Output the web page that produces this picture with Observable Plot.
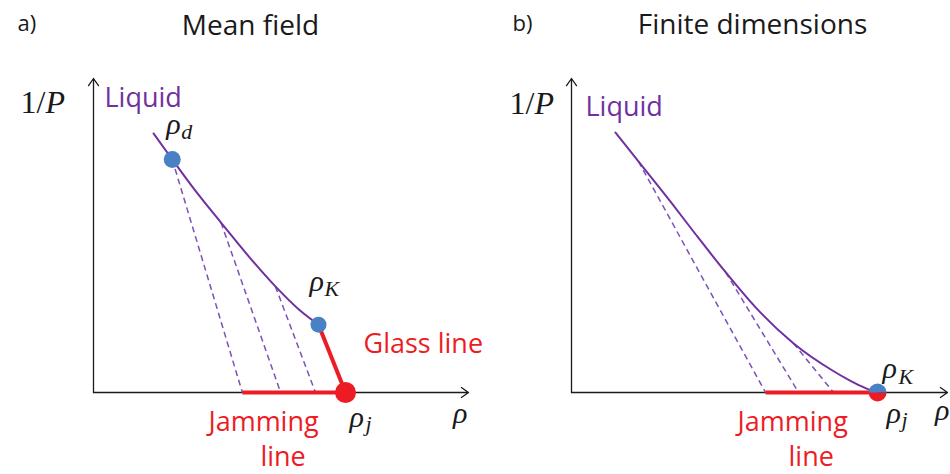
<!DOCTYPE html>
<html>
<head>
<meta charset="utf-8">
<script src="https://cdn.jsdelivr.net/npm/d3@7"></script>
<script src="https://cdn.jsdelivr.net/npm/@observablehq/plot@0.6"></script>
<style>
  body { margin: 0; background: #fff; }
  #figure { display: flex; width: 950px; height: 474px; }
  #figure svg { overflow: visible !important; background: transparent !important; }
</style>
</head>
<body>
<div id="figure"></div>
<script>
// Schematic equations of state, density rho vs inverse pressure 1/P (arbitrary units)

// ---- Panel a: mean field ----
const liquidRhoA  = [0.16, 0.21, 0.27, 0.34, 0.42, 0.485, 0.55, 0.60];
const liquidInvPA = [0.825, 0.742, 0.645, 0.541, 0.425, 0.338, 0.262, 0.216];
// glass branches leave the liquid line and end on the jamming line
const glassFromRhoA  = [0.21, 0.34, 0.485];
const glassFromInvPA = [0.742, 0.541, 0.338];
const glassToRhoA    = [0.397, 0.499, 0.592];
const rhoDA = 0.21, invPDA = 0.742;   // dynamical transition
const rhoKA = 0.60, invPKA = 0.216;   // Kauzmann point
const rhoJA = 0.672;                  // jamming point (1/P = 0)

// ---- Panel b: finite dimensions ----
const liquidRhoB  = [0.117, 0.178, 0.269, 0.330, 0.410, 0.489, 0.590, 0.694, 0.742, 0.782, 0.814];
const liquidInvPB = [0.828, 0.736, 0.599, 0.504, 0.383, 0.272, 0.157, 0.070, 0.037, 0.014, 0.0];
const glassFromRhoB  = [0.178, 0.410, 0.590];
const glassFromInvPB = [0.736, 0.383, 0.157];
const glassToRhoB    = [0.516, 0.604, 0.697];
const rhoKB = 0.814;                  // rho_K and rho_j coincide
const rhoJB = 0.814;

// ---- Text ----
const panelTags = ["a)", "b)"];
const panelTitles = ["Mean field", "Finite dimensions"];
const liquidLabel = "Liquid";
const glassLabel = "Glass line";
const jammingLabel = ["Jamming", "line"];

const purple = "#7030a0";
const dashPurple = "#7d50b8";
const red = "#ed1c24";
const blue = "#4a80c4";
const ink = "#1a1a1a";
const sans = "'Open Sans', sans-serif";
const serif = "'Liberation Serif', serif";

// half-disc symbols for the coinciding rho_K / rho_j point
const topHalf = {draw(ctx, size) { const r = Math.sqrt(size / Math.PI); ctx.moveTo(-r, 0); ctx.arc(0, 0, r, Math.PI, 2 * Math.PI); ctx.closePath(); }};
const bottomHalf = {draw(ctx, size) { const r = Math.sqrt(size / Math.PI); ctx.moveTo(r, 0); ctx.arc(0, 0, r, 0, Math.PI); ctx.closePath(); }};

const txt = (t, o) => Plot.text([t], {text: d => d, lineAnchor: "bottom", ...o});
// italic rho with a subscript
function rhoLabel(sub, x, y, o) {
  return [
    txt("ρ", {x: [x], y: [y], textAnchor: "start", fontFamily: serif, fontStyle: "italic", fontSize: 30, fill: ink, dx: o.dx, dy: o.dy}),
    txt(sub, {x: [x], y: [y], textAnchor: "start", fontFamily: serif, fontStyle: "italic", fontSize: 22, fill: ink, dx: o.sdx, dy: o.sdy})
  ];
}

function axes() {
  return [
    Plot.arrow([0], {x1: 0, y1: 0, x2: 1, y2: 0, stroke: ink, strokeWidth: 1.3, headLength: 10, headAngle: 70}),
    Plot.arrow([0], {x1: 0, y1: 0, x2: 0, y2: 1, stroke: ink, strokeWidth: 1.3, headLength: 10, headAngle: 70})
  ];
}

function frameText(i, o) {
  return [
    txt(panelTags[i], {frameAnchor: "top-left", textAnchor: "start", fontFamily: sans, fontSize: 22, fill: ink, dx: o.tagDx, dy: -48}),
    txt(panelTitles[i], {frameAnchor: "top-left", textAnchor: "middle", fontFamily: sans, fontSize: 28, fill: ink, dx: o.titleDx, dy: o.titleDy}),
    txt("1/", {frameAnchor: "top-left", textAnchor: "end", fontFamily: serif, fontSize: 32, fill: ink, dx: o.invDx, dy: o.invDy}),
    txt("P", {frameAnchor: "top-left", textAnchor: "start", fontFamily: serif, fontStyle: "italic", fontSize: 32, fill: ink, dx: o.invDx, dy: o.invDy}),
    txt(liquidLabel, {frameAnchor: "top-left", textAnchor: "start", fontFamily: sans, fontSize: 27, fill: purple, dx: o.liqDx, dy: o.liqDy})
  ];
}

const liquidA = liquidRhoA.map((r, i) => ({rho: r, invP: liquidInvPA[i]}));
const liquidB = liquidRhoB.map((r, i) => ({rho: r, invP: liquidInvPB[i]}));
const branchesA = glassFromRhoA.map((r, i) => ({x1: r, y1: glassFromInvPA[i], x2: glassToRhoA[i], y2: 0}));
const branchesB = glassFromRhoB.map((r, i) => ({x1: r, y1: glassFromInvPB[i], x2: glassToRhoB[i], y2: 0}));

const panelA = Plot.plot({
  width: 475, height: 474,
  marginLeft: 93, marginRight: 7, marginTop: 78, marginBottom: 82,
  x: {domain: [0, 1], axis: null},
  y: {domain: [0, 1], axis: null},
  marks: [
    ...axes(),
    Plot.link(branchesA, {x1: "x1", y1: "y1", x2: "x2", y2: "y2", stroke: dashPurple, strokeWidth: 1.5, strokeDasharray: "6,4"}),
    Plot.line(liquidA, {x: "rho", y: "invP", stroke: purple, strokeWidth: 2, curve: "monotone-x"}),
    Plot.link([0], {x1: glassToRhoA[0], y1: 0, x2: rhoJA, y2: 0, stroke: red, strokeWidth: 4}),
    Plot.link([0], {x1: rhoKA, y1: invPKA, x2: rhoJA, y2: 0, stroke: red, strokeWidth: 4}),
    Plot.dot([0], {x: rhoDA, y: invPDA, r: 8.5, fill: blue}),
    Plot.dot([0], {x: rhoKA, y: invPKA, r: 8, fill: blue}),
    Plot.dot([0], {x: rhoJA, y: 0, r: 10.5, fill: red}),
    ...frameText(0, {tagDx: -76, titleDx: 157, titleDy: -44, invDx: -48, invDy: 34, liqDx: 11, liqDy: 28}),
    ...rhoLabel("d", rhoDA, invPDA, {dx: -6, dy: -26, sdx: 9, sdy: -21}),
    ...rhoLabel("K", rhoKA, invPKA, {dx: -9, dy: -34, sdx: 6, sdy: -29}),
    ...rhoLabel("j", rhoJA, 0, {dx: 4, dy: 34, sdx: 20, sdy: 38}),
    txt("ρ", {x: [1], y: [0], textAnchor: "end", fontFamily: serif, fontStyle: "italic", fontSize: 30, fill: ink, dx: -1, dy: 30}),
    txt(glassLabel, {x: [rhoKA], y: [invPKA], textAnchor: "start", fontFamily: sans, fontSize: 27, fill: red, dx: 45, dy: 28}),
    txt(jammingLabel[0], {x: [glassToRhoA[0]], y: [0], textAnchor: "start", fontFamily: sans, fontSize: 27, fill: red, dx: -34, dy: 38}),
    txt(jammingLabel[1], {x: [glassToRhoA[0]], y: [0], textAnchor: "start", fontFamily: sans, fontSize: 27, fill: red, dx: 18, dy: 73})
  ]
});

const panelB = Plot.plot({
  width: 475, height: 474,
  marginLeft: 96, marginRight: 3, marginTop: 78, marginBottom: 82,
  x: {domain: [0, 1], axis: null},
  y: {domain: [0, 1], axis: null},
  marks: [
    ...axes(),
    Plot.link(branchesB, {x1: "x1", y1: "y1", x2: "x2", y2: "y2", stroke: dashPurple, strokeWidth: 1.5, strokeDasharray: "6,4"}),
    Plot.line(liquidB, {x: "rho", y: "invP", stroke: purple, strokeWidth: 2, curve: "monotone-x"}),
    Plot.link([0], {x1: glassToRhoB[0], y1: 0, x2: rhoJB, y2: 0, stroke: red, strokeWidth: 4}),
    Plot.dot([0], {x: rhoJB, y: 0, r: 9, fill: red, symbol: bottomHalf}),
    Plot.dot([0], {x: rhoKB, y: 0, r: 9, fill: blue, symbol: topHalf}),
    ...frameText(1, {tagDx: -59, titleDx: 181, titleDy: -45, invDx: -37, invDy: 35, liqDx: 14, liqDy: 37}),
    ...rhoLabel("K", rhoKB, 0, {dx: 5, dy: -15, sdx: 21, sdy: -9}),
    ...rhoLabel("j", rhoJB, 0, {dx: 9, dy: 30, sdx: 24, sdy: 34}),
    txt("ρ", {x: [1], y: [0], textAnchor: "end", fontFamily: serif, fontStyle: "italic", fontSize: 30, fill: ink, dx: 2, dy: 27}),
    txt(jammingLabel[0], {x: [glassToRhoB[0]], y: [0], textAnchor: "start", fontFamily: sans, fontSize: 27, fill: red, dx: -28, dy: 38}),
    txt(jammingLabel[1], {x: [glassToRhoB[0]], y: [0], textAnchor: "start", fontFamily: sans, fontSize: 27, fill: red, dx: 23, dy: 73})
  ]
});

document.getElementById("figure").append(panelA, panelB);
</script>
</body>
</html>
